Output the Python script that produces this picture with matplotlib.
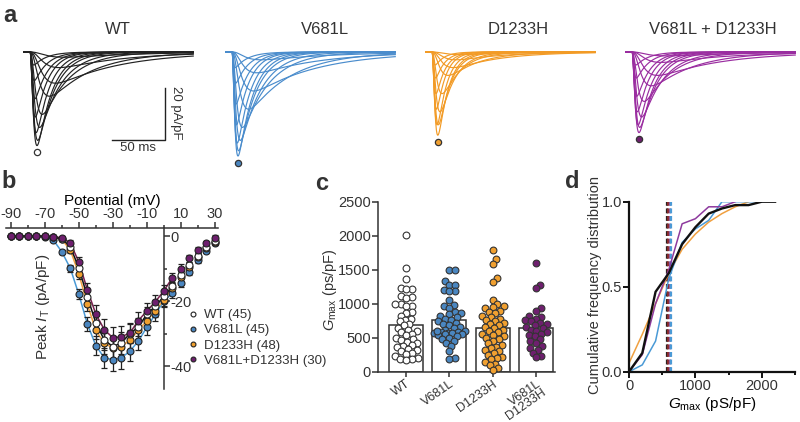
import numpy as np
import matplotlib
matplotlib.use("Agg")
import matplotlib.pyplot as plt
from matplotlib.lines import Line2D
from matplotlib.ticker import FormatStrFormatter

plt.rcParams['font.family'] = ['Liberation Sans', 'DejaVu Sans']
plt.rcParams['axes.unicode_minus'] = False
plt.rcParams['mathtext.fontset'] = 'custom'
plt.rcParams['mathtext.rm'] = 'Liberation Sans'
plt.rcParams['mathtext.it'] = 'Liberation Sans:italic'
TXT = '#333333'
plt.rcParams['text.color'] = TXT
plt.rcParams['axes.edgecolor'] = TXT
plt.rcParams['xtick.color'] = TXT
plt.rcParams['ytick.color'] = TXT

# ---------------- data ----------------
groups = ['WT', 'V681L', 'D1233H', 'V681L + D1233H']
colors_trace = ['#222222', '#4a8ccc', '#f29b26', '#9a2da0']
colors_pt = ['#ffffff', '#4a86c0', '#f0a030', '#6e1f6e']
colors_line = ['#111111', '#4a9ad6', '#f0a040', '#7a2050']

# panel a: current families (peak amplitude pA/pF, activation / inactivation time constants, ms)
trace_tm = [11, 9, 7.5, 6, 3.8, 3.0, 2.4, 2.2, 1.9, 1.6, 1.4, 1.2, 1.0]
trace_th = [65, 60, 60, 40, 25, 20, 16, 14, 13, 12, 12, 12, 12]
amps_wt = [2, 6, 12, 17, 24, 29, 34, 36, 31, 25, 18, 11, 5]
amps_v681l = [3, 8, 15, 22, 29, 34, 38, 40, 35, 28, 20, 12, 6]
amps_d1233h = [1, 3, 6, 9, 16, 23, 28, 32, 28, 22, 16, 10, 5]
amps_vd = [1.5, 4, 9, 13, 19, 25, 29, 31, 28, 23, 17, 10, 5]
tm_scale = [1.0, 0.8, 0.9, 1.0]
th_scale = [1.0, 1.0, 0.7, 1.0]

# panel b: I-V
volts = [-90, -85, -80, -75, -70, -65, -60, -55, -50, -45, -40, -35, -30, -25,
         -20, -15, -10, -5, 0, 5, 10, 15, 20, 25, 30]
iv_wt = [0, 0, 0, 0, -0.1, -0.4, -0.8, -3.3, -9.7, -18.6, -26.7, -32, -34, -32.9,
         -30, -28, -24, -21.6, -18.5, -15.5, -12, -9, -6, -3.5, -1.5]
iv_v681l = [0, 0, 0, 0, -0.3, -1.2, -4.8, -9.9, -17.9, -27, -33.7, -37.5, -38, -37.5,
            -35.4, -32.3, -28, -24, -20, -17.5, -14.5, -11, -7.5, -4.5, -2]
iv_d1233h = [0, 0, 0, 0, -0.1, -0.3, -1.0, -4.3, -11.6, -21, -29, -33, -34.4, -34,
             -32, -29, -26, -23, -19.6, -16, -12.5, -9.5, -6.5, -3.8, -1.8]
iv_vd = [0, 0, 0, 0, 0, -0.2, -0.5, -2.2, -7.9, -16.5, -24, -28.8, -31.3, -31,
         -29.8, -26, -23, -20.2, -16.8, -12.8, -10, -6.8, -4.3, -2.2, -0.5]
iv_err = [0, 0, 0, 0, 0.2, 0.3, 0.6, 1.0, 1.5, 2.2, 2.8, 3.2, 3.4, 3.3,
          3.0, 2.7, 2.3, 2.0, 1.8, 1.5, 1.3, 1.1, 0.9, 0.8, 0.7]
legend_labels = ['WT (45)', 'V681L (45)', 'D1233H (48)', 'V681L+D1233H (30)']

# panel c: Gmax scatter
gmax_wt = [2010, 1530, 1370, 1230, 1220, 1210, 1120, 1100, 1080, 1000, 1000, 970,
           960, 880, 870, 820, 780, 760, 740, 700, 680, 650, 620, 600, 580, 560,
           540, 500, 480, 460, 440, 420, 400, 380, 360, 340, 320, 300, 280, 260,
           230, 200, 190, 180, 175]
gmax_v681l = [1490, 1490, 1330, 1280, 1280, 1200, 1190, 1180, 1060, 980, 960, 940,
              880, 860, 850, 820, 800, 780, 760, 740, 720, 700, 680, 660, 640, 620,
              600, 590, 580, 575, 570, 565, 560, 550, 540, 520, 500, 480, 450, 420,
              380, 300, 200, 180, 600]
gmax_d1233h = [1790, 1660, 1590, 1380, 1320, 1050, 1000, 960, 950, 930, 900, 880,
               860, 820, 800, 780, 760, 740, 720, 700, 680, 660, 640, 620, 600, 580,
               560, 540, 520, 500, 480, 450, 420, 400, 370, 350, 320, 300, 280, 250,
               220, 200, 180, 150, 120, 100, 50, 30]
gmax_vd = [1600, 1280, 1230, 940, 900, 820, 800, 780, 760, 740, 720, 700, 680, 660,
           640, 620, 600, 580, 560, 540, 520, 480, 450, 420, 380, 350, 320, 280, 230, 210]
gmax_means = [690, 760, 640, 645]
c_labels = ['WT', 'V681L', 'D1233H', 'V681L\nD1233H']

# panel d: cumulative distributions
cdf_x = [0, 200, 400, 600, 800, 1000, 1200, 1400, 1600, 1800, 2000, 2200]
cdf_wt = [0, 0.11, 0.47, 0.58, 0.75, 0.85, 0.93, 0.96, 0.98, 0.98, 1.0, 1.0]
cdf_v681l = [0, 0.04, 0.18, 0.55, 0.76, 0.84, 0.89, 1.0, 1.0, 1.0, 1.0]
cdf_d1233h = [0.05, 0.22, 0.40, 0.58, 0.72, 0.81, 0.88, 0.93, 0.97, 1.0]
cdf_vd = [0, 0.10, 0.40, 0.60, 0.87, 0.90, 0.97, 0.97, 1.0]
medians = [565, 590, 615, 640]

# ---------------- figure ----------------
W, H = 800, 422
fig = plt.figure(figsize=(W / 100, H / 100), dpi=100)


def px_axes(l, t, r, b):
    return fig.add_axes([l / W, 1 - b / H, (r - l) / W, (b - t) / H])


def ftext(x, y, s, **kw):
    fig.text(x / W, 1 - y / H, s, **kw)


# ---- panel a ----
PXMS, PXPA = 1.06, 2.6
starts = [30, 232, 432, 632]
title_x = [118, 325, 518, 713]
amps_all = [amps_wt, amps_v681l, amps_d1233h, amps_vd]
t = np.linspace(-6, 154, 1600)
for g in range(4):
    x0 = starts[g]
    ax = px_axes(x0 - 20, 40, x0 + 180, 170)
    ax.set_xlim(-20 / PXMS, 180 / PXMS)
    ax.set_ylim(-(170 - 52) / PXPA, (52 - 40) / PXPA)
    ax.axis('off')
    deepest = (0, 0)
    for A, tm, th in zip(amps_all[g], trace_tm, trace_th):
        tm2, th2 = tm * tm_scale[g], th * th_scale[g]
        tp = np.clip(t, 0, None)
        f = (1 - np.exp(-tp / tm2)) ** 3 * np.exp(-tp / th2)
        y = -A * f / f.max()
        ax.plot(t, y, color=colors_trace[g], lw=0.85, solid_joinstyle='round')
        if A > deepest[0]:
            deepest = (A, t[np.argmax(f)])
    ax.plot([deepest[1]], [-deepest[0] - 2.6], 'o', ms=4.5, mfc=colors_pt[g],
            mec='#333333', mew=0.9, clip_on=False)
    ftext(title_x[g], 30, groups[g], fontsize=12, ha='center', va='center')
    if g == 0:
        # scale bar: 50 ms, 20 pA/pF
        xb = (165 - x0) / PXMS
        yb = -(140 - 52) / PXPA
        ax.plot([xb - 50, xb, xb], [yb, yb, yb + 20], color='#222222', lw=1.0,
                clip_on=False)
        ftext(138, 148, '50 ms', fontsize=9.5, ha='center', va='center')
        ftext(176, 113, '20 pA/pF', fontsize=9.5, ha='center', va='center',
              rotation=270)

# ---- panel b ----
axb = px_axes(5.6, 228.3, 218.4, 388.8)
axb.set_xlim(-93, 32)
axb.set_ylim(-47, 2.4)
axb.spines['left'].set_visible(False)
axb.spines['bottom'].set_visible(False)
axb.spines['right'].set_position(('data', 0))
axb.xaxis.tick_top()
axb.yaxis.tick_right()
axb.xaxis.set_label_position('top')
axb.set_xticks([-90, -70, -50, -30, -10, 10, 30])
axb.set_xticks([-80, -60, -40, -20, 0, 20], minor=True)
axb.set_yticks([0, -20, -40])
axb.set_yticks([-10, -30], minor=True)
for sp in axb.spines.values():
    sp.set_linewidth(1.1)
axb.tick_params(which='both', width=1.1, labelsize=10.5, pad=1)
axb.tick_params(which='major', length=4)
axb.tick_params(which='minor', length=2.5)
axb.set_xlabel('Potential (mV)', fontsize=11, labelpad=2)
ftext(43, 307, r'Peak $\mathit{I}_{\mathrm{T}}$ (pA/pF)', fontsize=11,
      rotation=90, ha='center', va='center')
iv_all = [iv_wt, iv_v681l, iv_d1233h, iv_vd]
vfit = [v for v in volts if v <= 5]
for g in [1, 2, 3, 0]:
    axb.plot(vfit, iv_all[g][:len(vfit)], color=colors_line[g], lw=1.1, zorder=2)
for g in [1, 2, 0, 3]:
    axb.errorbar(volts, iv_all[g], yerr=iv_err, fmt='none', ecolor='#222222',
                 elinewidth=0.9, capsize=2.5, capthick=0.9, zorder=3)
    axb.plot(volts, iv_all[g], 'o', ms=5, mfc=colors_pt[g], mec='#222222',
             mew=0.8, zorder=4, clip_on=False)
handles = [Line2D([], [], ls='none', marker='o', ms=3.5, mfc=colors_pt[g],
                  mec='#222222', mew=0.8) for g in range(4)]
fig.legend(handles, legend_labels, loc='upper left',
           bbox_to_anchor=(186 / W, 1 - 309 / H), frameon=False, fontsize=9.5,
           handletextpad=0.4, handlelength=1.0, labelspacing=0.22,
           borderaxespad=0, borderpad=0)

# ---- panel c ----
axc = px_axes(377.7, 201.7, 555, 371.7)
axc.set_xlim(-0.654, 3.44)
axc.set_ylim(0, 2500)
for s in ['top', 'right']:
    axc.spines[s].set_visible(False)
for sp in axc.spines.values():
    sp.set_linewidth(1.1)
axc.bar(range(4), gmax_means, width=0.785, color='white', edgecolor='#333333',
        linewidth=1.1, zorder=1)
gm_all = [gmax_wt, gmax_v681l, gmax_d1233h, gmax_vd]
X_PER_PX = 1 / 43.3
Y_PER_PX = 2500 / 170.0
DIAM = 5.6
MAXOFF = 15.5


def swarm_offsets(vals):
    vals = np.asarray(vals, dtype=float)
    order = np.argsort(vals)
    placed = []
    offs = np.zeros_like(vals)
    cands = [0.0]
    for k in range(1, int(MAXOFF / 0.5) + 1):
        cands += [k * 0.5, -k * 0.5]
    for i in order:
        ypx = vals[i] / Y_PER_PX
        near = [(px, py) for px, py in placed if abs(py - ypx) < DIAM]
        best, bestd = 0.0, -1
        for c in cands:
            d = min([np.hypot(c - px, ypx - py) for px, py in near] + [99])
            if d >= DIAM:
                best = c
                break
            if d > bestd:
                best, bestd = c, d
        placed.append((best, ypx))
        offs[i] = best * X_PER_PX
    return offs


for g in range(4):
    vals = np.array(gm_all[g], dtype=float)
    xs = g + swarm_offsets(vals)
    axc.scatter(xs, vals, s=24, c=colors_pt[g], edgecolors='#333333',
                linewidths=0.8, zorder=3, clip_on=False)
axc.set_yticks([0, 500, 1000, 1500, 2000, 2500])
axc.set_xticks(range(4))
axc.set_xticklabels(c_labels, rotation=35, ha='right', rotation_mode='anchor',
                    fontsize=9, linespacing=0.8)
axc.tick_params(axis='y', labelsize=10.5, width=1.1, length=4, pad=1)
axc.tick_params(axis='x', width=1.1, length=3.5, pad=1)
ftext(330, 290, r'$\mathit{G}_{\mathrm{max}}$ (ps/pF)', fontsize=10.5, rotation=90,
      ha='center', va='center')

# ---- panel d ----
axd = px_axes(629, 201.7, 795, 371.7)
axd.set_xlim(0, 2500)
axd.set_ylim(0, 1)
for s in ['top', 'right']:
    axd.spines[s].set_visible(False)
for sp in axd.spines.values():
    sp.set_linewidth(1.6)
    sp.set_color('#111111')
cdf_all = [cdf_wt, cdf_v681l, cdf_d1233h, cdf_vd]
cdf_cols = ['#111111', '#4a9ad6', '#f0a040', '#8e3a9e']
lws = [1.7, 1.1, 1.1, 1.1]
for g in [2, 1, 3, 0]:
    y = cdf_all[g]
    axd.plot(cdf_x[:len(y)], y, color=cdf_cols[g], lw=lws[g],
             zorder=3 if g == 0 else 2)
dcol = ['#222222', '#8b2a2a', '#8e5aa0', '#4a9ad6']
for g in range(4):
    axd.plot([medians[g], medians[g]], [0, 1], ls=(0, (2.2, 1.2)),
             color=dcol[g], lw=1.6, zorder=1)
axd.set_xticks([0, 1000, 2000])
axd.set_xticks([500, 1500, 2500], minor=True)
axd.set_yticks([0, 0.5, 1.0])
axd.yaxis.set_major_formatter(FormatStrFormatter('%.1f'))
axd.tick_params(which='both', labelsize=10.5, width=1.4, pad=1, color='#111111')
axd.tick_params(which='major', length=4)
axd.tick_params(which='minor', length=2.5)
axd.set_xlabel(r'$\mathit{G}_{\mathrm{max}}$ (pS/pF)', fontsize=11, labelpad=2)
ftext(595, 285, 'Cumulative frequency distribution', fontsize=10.5, rotation=90,
      ha='center', va='center')

# panel letters
for lab, x, y in [('a', 10, 15), ('b', 9, 182), ('c', 322, 183), ('d', 572, 182)]:
    ftext(x, y, lab, fontsize=17, fontweight='bold', ha='center', va='center')

fig.savefig('out.png', dpi=100)
